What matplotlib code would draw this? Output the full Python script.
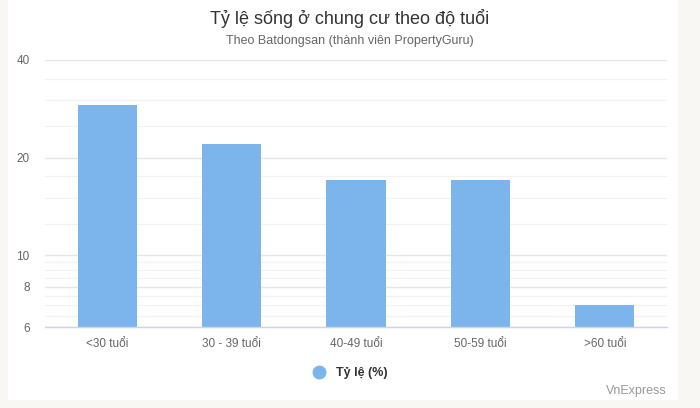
import matplotlib.pyplot as plt
from matplotlib.patches import Rectangle
from matplotlib.lines import Line2D

plt.rcParams['font.family'] = ['Liberation Sans', 'DejaVu Sans']

# data
categories = ['<30 tuổi', '30 - 39 tuổi', '40-49 tuổi', '50-59 tuổi', '>60 tuổi']
ty_le = [29, 22, 17, 17, 7]
major_ticks = [6, 8, 10, 20, 40]
minor_grid = [6.5, 7, 7.5, 8.5, 9, 9.5, 12.5, 15, 17.5, 25, 30, 35]

fig = plt.figure(figsize=(7, 4.08), dpi=100)
fig.patch.set_facecolor('#f9f7f3')
# white card behind everything
fig.patches.append(Rectangle((8 / 700, 8 / 408), 670 / 700, 400 / 408,
                             transform=fig.transFigure, facecolor='white',
                             edgecolor='none', zorder=-5))

ax = fig.add_axes([45 / 700, 81 / 408, 622 / 700, 267 / 408])
ax.set_zorder(2)
ax.set_facecolor('white')
ax.set_yscale('log')

for v in minor_grid:
    ax.axhline(v, color='#f2f2f2', lw=0.9, zorder=0)
for v in major_ticks:
    ax.axhline(v, color='#e6e6e6', lw=1, zorder=0)

x = list(range(len(categories)))
ax.bar(x, ty_le, width=0.475, color='#7cb5ec', zorder=2)
ax.set_ylim(6, 40)
ax.set_xlim(-0.5, len(categories) - 0.5)

ax.set_yticks(major_ticks)
ax.set_yticklabels([str(t) for t in major_ticks])
ax.yaxis.set_minor_locator(plt.NullLocator())
ax.set_xticks(x)
ax.set_xticklabels(categories)
ax.tick_params(axis='y', length=0, pad=11, labelsize=8.5, labelcolor='#666666')
ax.tick_params(axis='x', length=0, pad=8, labelsize=8.5, labelcolor='#666666')

for s in ['top', 'right', 'left']:
    ax.spines[s].set_visible(False)
ax.spines['bottom'].set_color('#ccd6eb')
ax.spines['bottom'].set_linewidth(1)
ax.spines['bottom'].set_zorder(3)

fig.text(0.5, 1 - 18 / 408, 'Tỷ lệ sống ở chung cư theo độ tuổi', ha='center', va='center',
         fontsize=13, color='#333333')
fig.text(0.5, 1 - 41 / 408, 'Theo Batdongsan (thành viên PropertyGuru)', ha='center',
         va='center', fontsize=9, color='#666666')

handle = Line2D([], [], marker='o', linestyle='none', markersize=9,
                markerfacecolor='#7cb5ec', markeredgecolor='#7cb5ec')
fig.legend([handle], ['Tỷ lệ (%)'], loc='center', bbox_to_anchor=(347 / 700, 1 - 373 / 408),
           frameon=False, handletextpad=0.3, prop={'weight': 'bold', 'size': 9},
           labelcolor='#333333')

fig.text(667 / 700, 1 - 391 / 408, 'VnExpress', ha='right', va='center', fontsize=9,
         color='#999999')

fig.savefig('out.png', dpi=100, facecolor=fig.get_facecolor())
